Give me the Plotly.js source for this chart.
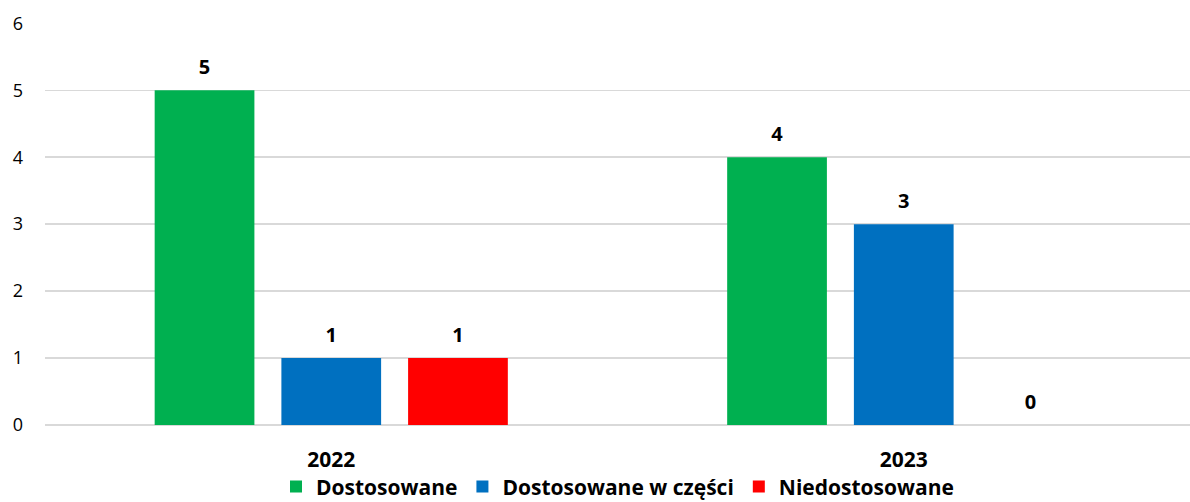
<!DOCTYPE html>
<html><head><meta charset="utf-8">
<script src="https://cdn.plot.ly/plotly-3.0.1.min.js"></script>
<style>html,body{margin:0;padding:0;background:#fff}#chart{width:1190px;height:502px}</style>
</head><body><div id="chart"></div>
<script>
const categories = ['2022', '2023'];
const seriesNames = ['Dostosowane', 'Dostosowane w części', 'Niedostosowane'];
const dostosowane = [5, 4];
const wCzesci = [1, 3];
const niedostosowane = [1, 0];
const colors = ['#00B050', '#0070C0', '#FF0000'];
const values = [dostosowane, wCzesci, niedostosowane];
const FONT = '"Open Sans", Lato, sans-serif';
const bars = values.map((v, i) => ({
  type: 'bar', x: categories, y: v, name: seriesNames[i],
  marker: {color: colors[i]}, offsetgroup: 'g' + i
}));
const labels = values.map((v, i) => ({
  type: 'scatter', mode: 'markers+text', x: categories, y: v, showlegend: false,
  offsetgroup: 'g' + i,
  marker: {size: 16, opacity: 0, color: colors[i]},
  text: v.map(String), textposition: 'top center', cliponaxis: false,
  textfont: {family: FONT, size: 20, color: '#000', weight: 'bold'}
}));
const layout = {
  width: 1190, height: 502,
  margin: {l: 45, r: 0, t: 23, b: 77},
  barmode: 'group', bargap: 0.336, bargroupgap: 0.213,
  scattermode: 'group', scattergap: 0.336,
  paper_bgcolor: '#fff', plot_bgcolor: '#fff',
  font: {family: FONT, color: '#000'},
  xaxis: {type: 'category', tickfont: {family: FONT, size: 21, weight: 'bold', color: '#000'}, showline: false, ticks: '', showgrid: false, ticklabelstandoff: 20},
  yaxis: {range: [0, 6.005], dtick: 1, tickfont: {family: FONT, size: 18, color: '#000'}, gridcolor: '#d9d9d9', gridwidth: 1.5, zeroline: true, zerolinecolor: '#d9d9d9', zerolinewidth: 1.5, ticklabelstandoff: 21, ticks: ''},
  legend: {orientation: 'h', x: 0.5, xanchor: 'center', yref: 'container', y: 0.03, yanchor: 'middle', bgcolor: 'rgba(0,0,0,0)', font: {family: FONT, size: 21, weight: 'bold', color: '#000'}, itemwidth: 30, tracegroupgap: 0},
  showlegend: true
};
Plotly.newPlot('chart', bars.concat(labels), layout, {displayModeBar: false, staticPlot: true});
</script></body></html>
